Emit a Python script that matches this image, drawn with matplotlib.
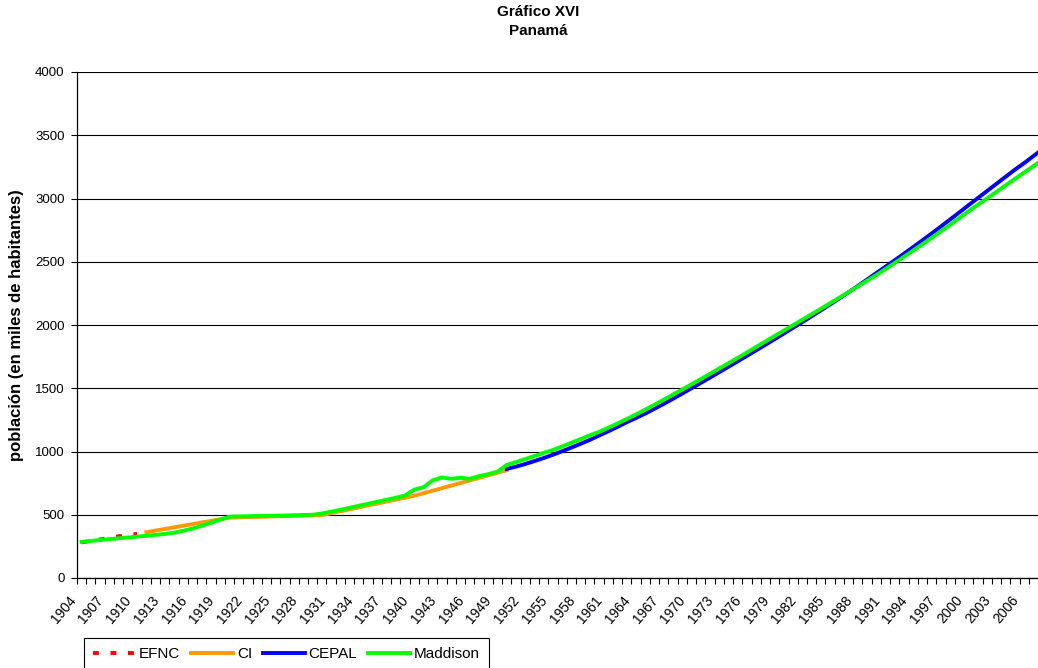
import numpy as np
import matplotlib.pyplot as plt
import matplotlib.transforms as mtransforms

plt.rcParams['font.family'] = ['Liberation Sans', 'DejaVu Sans']

# category axis: one slot per year (the visible part ends with 2007)
first_year, last_year = 1904, 2007
label_years = list(range(1904, 2007, 3))

# EFNC (short dashed series at the start)
efnc_years = [1904, 1905, 1906, 1907, 1908, 1909, 1910]
efnc = [282, 292, 305, 316, 330, 336, 350]

# CI, census points
ci_years = [1911, 1920, 1930, 1940, 1950]
ci = [362, 477, 497, 650, 852]

# CEPAL, 1950-2008
cepal_start = 1950
cepal = [862, 880, 901, 924, 948, 974, 1002, 1031, 1061, 1092,
         1126, 1160, 1195, 1232, 1265, 1300, 1338, 1377, 1417, 1458,
         1500, 1542, 1584, 1627, 1670, 1713, 1756, 1800, 1844, 1888,
         1933, 1978, 2023, 2069, 2115, 2162, 2210, 2259, 2309, 2359,
         2411, 2461, 2512, 2564, 2617, 2670, 2724, 2779, 2835, 2891,
         2948, 3004, 3060, 3116, 3172, 3228, 3280, 3335, 3390]

# Maddison, 1904-2008
maddison_start = 1904
maddison = [286, 293, 300, 307, 314, 320, 327, 334, 341, 348,
            358, 373, 391, 413, 437, 461, 485,
            487, 488, 490, 491, 493, 494, 496, 498, 500,
            510, 524, 539, 555, 571, 587, 602, 618, 634, 652,
            698, 718, 772, 795, 784, 792, 784, 805, 821, 840,
            893, 916, 940, 964, 989, 1011, 1040, 1069, 1098, 1128,
            1155, 1188, 1222, 1257, 1293, 1331, 1370, 1410, 1450, 1490,
            1531, 1572, 1614, 1656, 1698, 1740, 1783, 1827, 1870, 1913,
            1956, 1999, 2042, 2085, 2128, 2172, 2216, 2260, 2305, 2350,
            2395, 2443, 2491, 2540, 2589, 2639, 2690, 2741, 2793, 2846,
            2900, 2951, 3002, 3053, 3104, 3155, 3205, 3256, 3307]


def pos(years):
    return [y - first_year for y in years]


W, H = 1038, 668
fig = plt.figure(figsize=(W / 100, H / 100), dpi=100)
ax = fig.add_axes([77 / W, (H - 578) / H, 961 / W, 506 / H])

lw = 2.8
h_efnc, = ax.plot(pos(efnc_years), efnc, color='#FF0000', lw=lw,
                  linestyle=(0, (1.5, 3.0)), label='EFNC', zorder=3)
h_ci, = ax.plot(pos(ci_years), ci, color='#FF9900', lw=lw, label='CI', zorder=4)
cepal_years = range(cepal_start, cepal_start + len(cepal))
h_cepal, = ax.plot(pos(cepal_years), cepal, color='#0000FF', lw=lw,
                   label='CEPAL', zorder=5)
madd_years = range(maddison_start, maddison_start + len(maddison))
h_madd, = ax.plot(pos(madd_years), maddison, color='#00FF00', lw=lw,
                  label='Maddison', zorder=6)

ax.set_xlim(-0.5, last_year - first_year + 0.5)
ax.set_ylim(0, 4000)
ax.set_yticks(range(0, 4001, 500))
ax.yaxis.grid(True, color='black', lw=0.8)
ax.set_axisbelow(True)

for s in ['top', 'right']:
    ax.spines[s].set_visible(False)
for s in ['left', 'bottom']:
    ax.spines[s].set_color('black')
    ax.spines[s].set_linewidth(0.9)

ax.tick_params(axis='y', direction='out', length=4, width=0.8,
               labelsize=9.5, pad=5)

# labels at category centres, tick marks between categories
ax.set_xticks(pos(label_years))
ax.set_xticklabels([str(y) for y in label_years], rotation=50,
                   ha='right', va='top', fontsize=10)
ax.tick_params(axis='x', which='major', length=0, pad=11)
ax.set_xticks(np.arange(-0.5, last_year - first_year + 1, 1), minor=True)
ax.tick_params(axis='x', which='minor', direction='out', length=4, width=0.8)
shift = mtransforms.ScaledTranslation(-3 / 100, 0, fig.dpi_scale_trans)
for lab in ax.get_xticklabels():
    lab.set_transform(lab.get_transform() + shift)

fig.text(17 / W, 1 - 325 / H, 'población (en miles de habitantes)',
         rotation=90, ha='center', va='center', fontsize=12, fontweight='bold')
fig.text(538 / W, 1 - 12 / H, 'Gráfico XVI', ha='center', va='center',
         fontsize=11, fontweight='bold')
fig.text(538 / W, 1 - 31 / H, 'Panamá', ha='center', va='center',
         fontsize=11, fontweight='bold')

leg = fig.legend(handles=[h_efnc, h_ci, h_cepal, h_madd], loc='upper left',
                 bbox_to_anchor=(84 / W, 1 - 638 / H), ncol=4, frameon=True,
                 fancybox=False, edgecolor='black', framealpha=1,
                 fontsize=11, handlelength=2.75, handletextpad=0.25,
                 columnspacing=0.7, borderpad=0.6, borderaxespad=0)
leg.get_frame().set_linewidth(0.8)

fig.savefig('out.png', dpi=100)
